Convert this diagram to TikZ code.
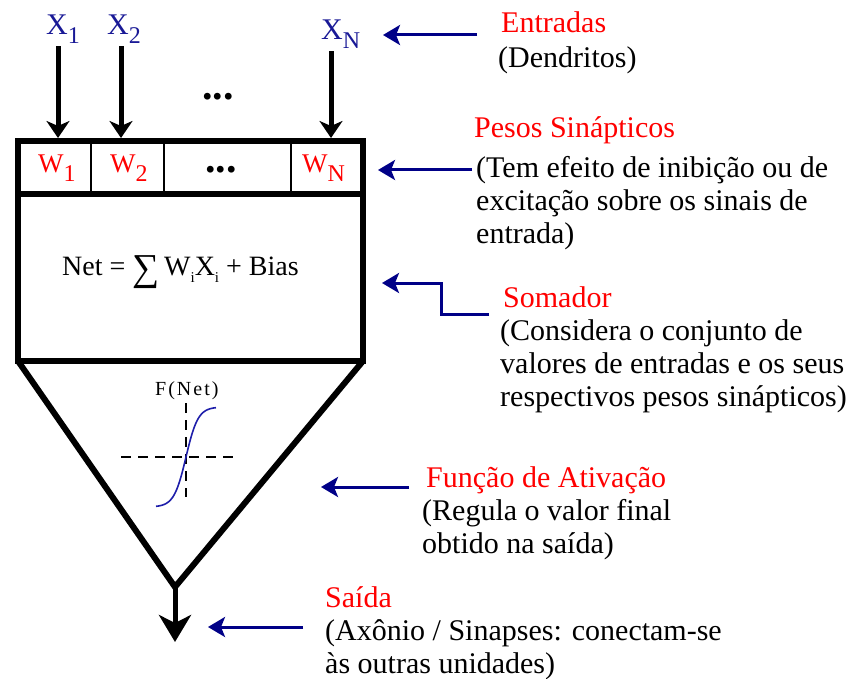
\documentclass[tikz,border=0pt]{standalone}
\usepackage{fontspec}
\setmainfont{Liberation Serif}
\newfontfamily\lblfont{Liberation Serif}
\usetikzlibrary{arrows.meta,positioning,calc}
\definecolor{navyarr}{RGB}{0,0,135}
\definecolor{xblue}{RGB}{25,25,150}
\definecolor{sigblue}{RGB}{30,30,170}
\definecolor{lblred}{RGB}{255,0,0}
\newcommand{\lowsub}[1]{\raisebox{-9pt}{\fontsize{24}{24}\selectfont #1}}
\newcommand{\isub}{\raisebox{-7pt}{\fontsize{15}{15}\selectfont i}}
\tikzset{
  every node/.style={font=\lblfont},
  inarr/.style={-{Stealth[length=17pt,width=23pt,inset=5pt]}, line width=5pt},
  outarr/.style={-{Stealth[length=27pt,width=32pt,inset=8pt]}, line width=5pt},
  notearr/.style={-{Stealth[length=17pt,width=20pt,inset=4pt]}, navyarr, line width=3pt},
  ttl/.style={anchor=base west, inner sep=0pt, text=lblred, font=\lblfont\fontsize{30}{33}\selectfont},
  body/.style={anchor=north west, inner sep=0pt, align=left, font=\lblfont\fontsize{30}{33}\selectfont},
  xlab/.style={anchor=base west, inner sep=0pt, text=xblue, font=\lblfont\fontsize{30}{30}\selectfont},
  wlab/.style={anchor=base west, inner sep=0pt, text=lblred, font=\lblfont\fontsize{27}{27}\selectfont},
  dotsl/.style={anchor=base, inner sep=0pt, font=\lblfont\bfseries\fontsize{42}{42}\selectfont},
  axisl/.style={dash pattern=on 10pt off 7pt, line width=2pt},
}
\begin{document}
\begin{tikzpicture}[x=1pt,y=-1pt]
  \useasboundingbox (0,0) rectangle (856,679);
  % neuron body
  \coordinate (tl) at (18,141);
  \coordinate (br) at (363,361);
  \coordinate (wl) at (18,194);
  \coordinate (wr) at (363,194);
  \coordinate (bl) at (18,361);
  \coordinate (apex) at (175,587);
  \foreach \dx in {91,164,291}
    \draw[line width=2pt] (\dx,141) -- (\dx,194);
  \draw[line width=6pt] (tl) rectangle (br);
  \draw[line width=6pt] (wl) -- (wr);
  \draw[line width=6pt] (bl) -- (apex) -- (br);
  % inputs
  \node[xlab] (x1) at (46,35) {X\lowsub{1}};
  \node[xlab] (x2) at (107,35) {X\lowsub{2}};
  \node[xlab] (xn) at (321,40) {X\lowsub{N}};
  \node[dotsl] (xdots) at (218,100) {...};
  \coordinate (in1) at (58,138);
  \coordinate (in2) at (121,138);
  \coordinate (inn) at (331,138);
  \draw[inarr] (x1.south -| in1) ++(0,2) -- (in1);
  \draw[inarr] (x2.south -| in2) ++(0,2) -- (in2);
  \draw[inarr] (xn.south -| inn) ++(0,2) -- (inn);
  % weights
  \node[wlab] (w1) at (38,173) {W\lowsub{1}};
  \node[wlab] (w2) at (110,173) {W\lowsub{2}};
  \node[wlab] (wn) at (302,173) {W\lowsub{N}};
  \node[dotsl] (wdots) at (221,173) {...};
  % adder
  \node[anchor=base west, inner sep=0pt, font=\lblfont\fontsize{28}{28}\selectfont] (net) at (62,275)
       {Net = \raisebox{-5pt}{\fontsize{38}{38}\selectfont ∑}\,W\isub X\isub{} + Bias};
  % activation
  \node[anchor=base west, inner sep=0pt, font=\lblfont\fontsize{20}{20}\selectfont\addfontfeature{LetterSpace=10}] (fnet) at (155,395) {F(Net)};
  \draw[axisl] (121,457) -- (237,457);
  \draw[axisl] (186,403) -- (186,497);
  \draw[sigblue, line width=1.6pt] plot[domain=-30:30, samples=50, smooth] ({186+\x},{457-50*tanh(\x/12)});
  % output
  \coordinate (outtip) at (175,642);
  \draw[outarr] (apex) -- (outtip);
  % labels
  \node[ttl] (entT) at (501,33) {Entradas};
  \node[body] (entB) at (498,46) {(Dendritos)};
  \node[ttl] (pesT) at (474,138) {Pesos Sinápticos};
  \node[body] (pesB) at (476,156) {(Tem efeito de inibição ou de\\excitação sobre os sinais de\\entrada)};
  \node[ttl] (somT) at (503,307) {Somador};
  \node[body] (somB) at (500,319) {(Considera o conjunto de\\valores de entradas e os seus\\respectivos pesos sinápticos)};
  \node[ttl] (funT) at (426,487) {Função de Ativação};
  \node[body] (funB) at (422,499) {(Regula o valor final\\obtido na saída)};
  \node[ttl] (saiT) at (325,607) {Saída};
  \node[body] (saiB) at (325,619) {(Axônio / Sinapses: conectam-se\\às outras unidades)};
  % pointers
  \coordinate (entP) at (383,35);
  \coordinate (pesP) at (378,170);
  \coordinate (somP) at (382,283);
  \coordinate (funP) at (321,487);
  \coordinate (saiP) at (208,627);
  \draw[notearr] (entT.west |- entP) ++(-24,0) -- (entP);
  \draw[notearr] (pesB.west |- pesP) ++(-4,0) -- (pesP);
  \draw[notearr] (somB.west |- 0,314) ++(-11,0) -- ++(-48,0) |- (somP);
  \draw[notearr] (funB.west |- funP) ++(-13,0) -- (funP);
  \draw[notearr] (saiB.west |- saiP) ++(-22,0) -- (saiP);
\end{tikzpicture}
\end{document}
